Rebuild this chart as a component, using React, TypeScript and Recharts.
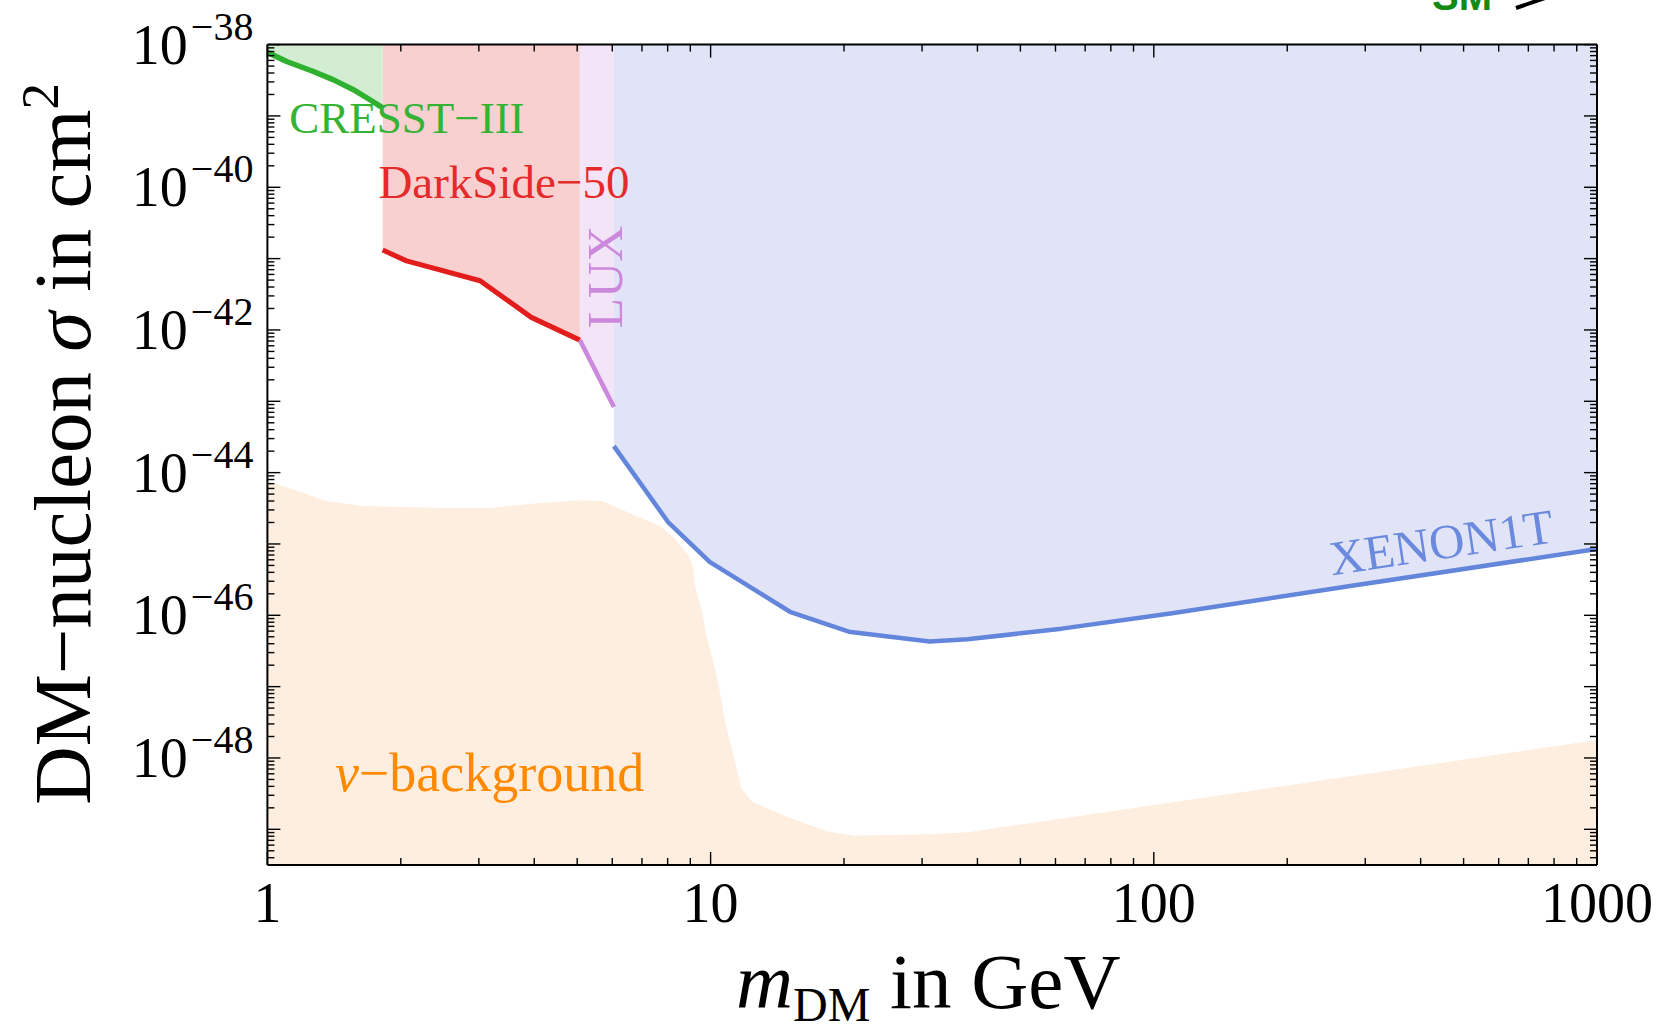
import { Area, ComposedChart, Line, ReferenceDot, XAxis, YAxis } from "recharts";

const W = 1664;
const H = 1031;
const SERIF = "'Liberation Serif', 'Times New Roman', Times, serif";
const SANS = "'Liberation Sans', Arial, sans-serif";

// axis ranges (m in GeV, sigma in cm^2)
const M_RANGE = [1, 1000];
const SIGMA_TOP = 1e-38;
const SIGMA_BOTTOM = 3.16e-50; // ~10^-49.5

// ticks
const X_MAJOR = [1, 10, 100, 1000];
const X_MAJOR_LABELS = ["1", "10", "100", "1000"];
const MINOR_STEPS = [2, 3, 4, 5, 6, 7, 8, 9];
const Y_DECADES = [-50, -49, -48, -47, -46, -45, -44, -43, -42, -41, -40, -39, -38];
const Y_LABELED = [-48, -46, -44, -42, -40, -38];

// exclusion limits
const CRESST_III = [
  { m: 1.0, s: 7.8e-39 },
  { m: 1.105, s: 5.8e-39 },
  { m: 1.27, s: 4.2e-39 },
  { m: 1.41, s: 3.2e-39 },
  { m: 1.56, s: 2.35e-39 },
  { m: 1.7, s: 1.7e-39 },
  { m: 1.82, s: 1.3e-39 },
];

const DARKSIDE_50 = [
  { m: 1.82, s: 1.32e-41 },
  { m: 2.06, s: 9.3e-42 },
  { m: 3.02, s: 4.9e-42 },
  { m: 3.94, s: 1.5e-42 },
  { m: 5.07, s: 7.2e-43 },
];

const LUX = [
  { m: 5.07, s: 7.2e-43 },
  { m: 6.05, s: 8.3e-44 },
];

const XENON1T = [
  { m: 6.05, s: 2.35e-44 },
  { m: 8.03, s: 2.0e-45 },
  { m: 9.95, s: 5.6e-46 },
  { m: 15.1, s: 1.12e-46 },
  { m: 20.5, s: 5.9e-47 },
  { m: 31.2, s: 4.3e-47 },
  { m: 38, s: 4.6e-47 },
  { m: 62, s: 6.5e-47 },
  { m: 110, s: 1.07e-46 },
  { m: 280, s: 2.6e-46 },
  { m: 1000, s: 8.5e-46 },
];

// upper edge of the neutrino floor
const NU_FLOOR = [
  { m: 1.0, s: 7.6e-45 },
  { m: 1.1, s: 6.3e-45 },
  { m: 1.22, s: 5.1e-45 },
  { m: 1.35, s: 4.0e-45 },
  { m: 1.64, s: 3.4e-45 },
  { m: 2.5, s: 3.2e-45 },
  { m: 3.2, s: 3.2e-45 },
  { m: 4.0, s: 3.7e-45 },
  { m: 5.07, s: 4.1e-45 },
  { m: 5.68, s: 4.0e-45 },
  { m: 6.99, s: 2.3e-45 },
  { m: 7.69, s: 1.78e-45 },
  { m: 8.39, s: 1.12e-45 },
  { m: 8.91, s: 6.9e-46 },
  { m: 9.14, s: 4.5e-46 },
  { m: 9.22, s: 2.6e-46 },
  { m: 9.55, s: 1.17e-46 },
  { m: 9.76, s: 5.5e-47 },
  { m: 10.23, s: 1.78e-47 },
  { m: 10.5, s: 8.5e-48 },
  { m: 10.78, s: 3.2e-48 },
  { m: 11.25, s: 1.1e-48 },
  { m: 11.75, s: 3.7e-49 },
  { m: 12.38, s: 2.45e-49 },
  { m: 14.85, s: 1.5e-49 },
  { m: 18.4, s: 9.3e-50 },
  { m: 21.0, s: 8.1e-50 },
  { m: 31.2, s: 8.5e-50 },
  { m: 38, s: 9.1e-50 },
  { m: 1000, s: 1.78e-48 },
];

const NOTES = [
  { lead: "", text: "CRESST−III", m: 1.12, s: 5.75e-40, color: "#35b335", size: 45, angle: 0, anchor: "start" },
  { lead: "", text: "DarkSide−50", m: 1.78, s: 7.1e-41, color: "#e52a2a", size: 47, angle: 0, anchor: "start" },
  { lead: "", text: "LUX", m: 6.3, s: 5.5e-42, color: "#cc88dd", size: 50, angle: -90, anchor: "middle" },
  { lead: "", text: "XENON1T", m: 451, s: 6.2e-46, color: "#6b8ade", size: 49, angle: -8.5, anchor: "middle" },
  { lead: "ν", text: "−background", m: 1.42, s: 3.4e-49, color: "#ff8a00", size: 54, angle: 0, anchor: "start" },
];

const decade = (e: number) => Number(`1e${e}`);
const X_TICKS = [...X_MAJOR, ...X_MAJOR.slice(0, 3).flatMap((d) => MINOR_STEPS.map((k) => k * d))];
const Y_TICKS = Y_DECADES.flatMap((e) => [decade(e), ...MINOR_STEPS.map((k) => k * decade(e))]).filter(
  (v) => v >= SIGMA_BOTTOM && v <= SIGMA_TOP
);

const toBand = (pts: { m: number; s: number }[]) => pts.map((p) => ({ m: p.m, band: [p.s, SIGMA_TOP] }));
const floorBand = NU_FLOOR.map((p) => ({ m: p.m, band: [SIGMA_BOTTOM, p.s] }));

const isDecade = (v: number) => {
  const lg = Math.log10(v);
  return Math.abs(lg - Math.round(lg)) < 1e-6;
};

const TICK_STROKE = { stroke: "#000", strokeWidth: 1.4 };
const FRAME = { stroke: "#000", strokeWidth: 2 };

function BottomTick({ x, y, payload }: any) {
  const i = X_MAJOR.indexOf(payload.value);
  const major = isDecade(payload.value);
  return (
    <g>
      <line x1={x} x2={x} y1={y} y2={y - (major ? 13 : 7)} {...TICK_STROKE} />
      {i >= 0 && (
        <text x={x} y={y + 57} textAnchor="middle" fontFamily={SERIF} fontSize={56} fill="#000">
          {X_MAJOR_LABELS[i]}
        </text>
      )}
    </g>
  );
}

function TopTick({ x, y, payload }: any) {
  const major = isDecade(payload.value);
  return <line x1={x} x2={x} y1={y} y2={y + (major ? 13 : 7)} {...TICK_STROKE} />;
}

function LeftTick({ x, y, payload }: any) {
  const e = Math.round(Math.log10(payload.value));
  const major = isDecade(payload.value);
  return (
    <g>
      <line x1={x} x2={x + (major ? 13 : 7)} y1={y} y2={y} {...TICK_STROKE} />
      {major && Y_LABELED.includes(e) && (
        <text x={x - 14} y={y + 19} textAnchor="end" fontFamily={SERIF} fontSize={56} fill="#000">
          10
          <tspan dx={3} dy={-24} fontSize={40}>
            {"−" + Math.abs(e)}
          </tspan>
        </text>
      )}
    </g>
  );
}

function RightTick({ x, y, payload }: any) {
  const major = isDecade(payload.value);
  return <line x1={x} x2={x - (major ? 13 : 7)} y1={y} y2={y} {...TICK_STROKE} />;
}

function XTitle({ viewBox }: any) {
  const cx = viewBox.x + viewBox.width / 2 - 4;
  const by = viewBox.y + 143;
  return (
    <text x={cx} y={by} textAnchor="middle" fontFamily={SERIF} fontSize={79} fill="#000">
      <tspan fontStyle="italic">m</tspan>
      <tspan dy={13} fontSize={48}>
        DM
      </tspan>
      <tspan dy={-13}>{" in GeV"}</tspan>
    </text>
  );
}

function YTitle({ viewBox }: any) {
  const bx = viewBox.x + viewBox.width - 177;
  const cy = viewBox.y + viewBox.height / 2 - 11;
  return (
    <text
      x={bx}
      y={cy}
      transform={`rotate(-90 ${bx} ${cy})`}
      textAnchor="middle"
      fontFamily={SERIF}
      fontSize={81}
      fill="#000"
    >
      {"DM−nucleon "}
      <tspan fontStyle="italic">σ</tspan>
      {" in cm"}
      <tspan dy={-32} fontSize={53}>
        2
      </tspan>
    </text>
  );
}

const noteLabel = (n: (typeof NOTES)[number]) => (props: any) => {
  const vb = props.viewBox;
  const x = vb.x + vb.width / 2;
  const y = vb.y + vb.height / 2;
  return (
    <text
      x={x}
      y={y}
      fill={n.color}
      fontFamily={SERIF}
      fontSize={n.size}
      textAnchor={n.anchor}
      transform={n.angle ? `rotate(${n.angle} ${x} ${y})` : undefined}
    >
      {n.lead && <tspan fontStyle="italic">{n.lead}</tspan>}
      {n.text}
    </text>
  );
};

export default function App() {
  return (
    <div style={{ position: "absolute", left: 0, top: 0, width: W, height: H, background: "#fff", overflow: "hidden" }}>
      <ComposedChart width={W} height={H} margin={{ top: 14.6, right: 37, bottom: 46, left: 67.4 }}>
        <XAxis
          xAxisId="b"
          dataKey="m"
          type="number"
          scale="log"
          domain={M_RANGE}
          allowDataOverflow
          ticks={X_TICKS}
          interval={0}
          tickSize={0}
          tickMargin={0}
          tickLine={false}
          tick={BottomTick}
          axisLine={FRAME}
          height={120}
          label={XTitle}
        />
        <XAxis
          xAxisId="t"
          orientation="top"
          dataKey="m"
          type="number"
          scale="log"
          domain={M_RANGE}
          allowDataOverflow
          ticks={X_TICKS}
          interval={0}
          tickSize={0}
          tickMargin={0}
          tickLine={false}
          tick={TopTick}
          axisLine={FRAME}
          height={30}
        />
        <YAxis
          yAxisId="l"
          type="number"
          scale="log"
          domain={[SIGMA_BOTTOM, SIGMA_TOP]}
          allowDataOverflow
          ticks={Y_TICKS}
          interval={0}
          tickSize={0}
          tickMargin={0}
          tickLine={false}
          tick={LeftTick}
          axisLine={FRAME}
          width={200}
          label={YTitle}
        />
        <YAxis
          yAxisId="r"
          orientation="right"
          type="number"
          scale="log"
          domain={[SIGMA_BOTTOM, SIGMA_TOP]}
          allowDataOverflow
          ticks={Y_TICKS}
          interval={0}
          tickSize={0}
          tickMargin={0}
          tickLine={false}
          tick={RightTick}
          axisLine={FRAME}
          width={30}
        />

        <Area xAxisId="b" yAxisId="l" data={floorBand} dataKey="band" type="linear" stroke="none" fill="#feeee0" fillOpacity={1} isAnimationActive={false} />
        <Area xAxisId="b" yAxisId="l" data={toBand(CRESST_III)} dataKey="band" type="linear" stroke="none" fill="#d3edd3" fillOpacity={1} isAnimationActive={false} />
        <Area xAxisId="b" yAxisId="l" data={toBand(DARKSIDE_50)} dataKey="band" type="linear" stroke="none" fill="#f8d0d0" fillOpacity={1} isAnimationActive={false} />
        <Area xAxisId="b" yAxisId="l" data={toBand(LUX)} dataKey="band" type="linear" stroke="none" fill="#f3e4f7" fillOpacity={1} isAnimationActive={false} />
        <Area xAxisId="b" yAxisId="l" data={toBand(XENON1T)} dataKey="band" type="linear" stroke="none" fill="#e0e4f6" fillOpacity={1} isAnimationActive={false} />

        <Line xAxisId="b" yAxisId="l" data={CRESST_III} dataKey="s" type="linear" stroke="#2fb02f" strokeWidth={5.5} dot={false} strokeLinejoin="round" isAnimationActive={false} />
        <Line xAxisId="b" yAxisId="l" data={DARKSIDE_50} dataKey="s" type="linear" stroke="#e31c1c" strokeWidth={5} dot={false} strokeLinejoin="round" isAnimationActive={false} />
        <Line xAxisId="b" yAxisId="l" data={LUX} dataKey="s" type="linear" stroke="#cc88dd" strokeWidth={4.5} dot={false} strokeLinejoin="round" isAnimationActive={false} />
        <Line xAxisId="b" yAxisId="l" data={XENON1T} dataKey="s" type="linear" stroke="#6386dc" strokeWidth={4.5} dot={false} strokeLinejoin="round" isAnimationActive={false} />

        {NOTES.map((n) => (
          <ReferenceDot
            key={n.text}
            xAxisId="b"
            yAxisId="l"
            x={n.m}
            y={n.s}
            r={1}
            fill="none"
            stroke="none"
            label={noteLabel(n)}
          />
        ))}
      </ComposedChart>
      <svg width={W} height={H} style={{ position: "absolute", left: 0, top: 0, pointerEvents: "none" }}>
        <text x={1432} y={10} fontFamily={SANS} fontWeight="bold" fontSize={40} fill="#138a13">
          SM
        </text>
        <line x1={1516} y1={8} x2={1548} y2={-3} stroke="#000" strokeWidth={4} />
      </svg>
    </div>
  );
}
